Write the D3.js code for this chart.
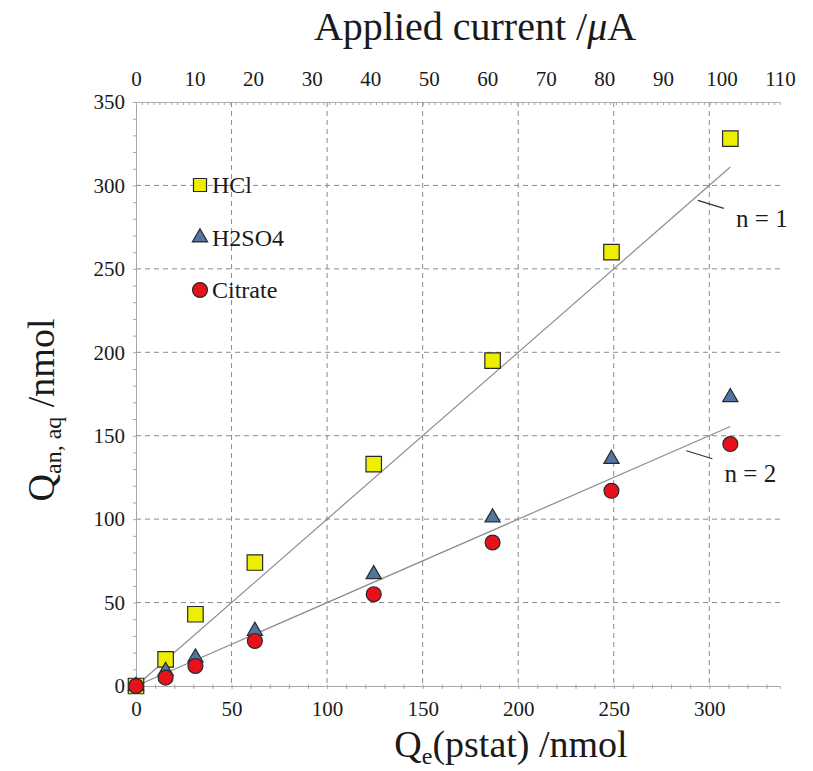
<!DOCTYPE html>
<html>
<head>
<meta charset="utf-8">
<script src="https://cdn.jsdelivr.net/npm/d3@7"></script>
<style>
  body { margin: 0; background: #fff; }
  svg text { font-family: 'Liberation Serif', 'Times New Roman', serif; fill: #1a1a1a; }
</style>
</head>
<body>
<div id="graf"></div>
<script>
// datos
qe      = [0, 15.5, 31.1, 62.2, 124.4, 186.6, 248.8, 311]
hcl     = [0, 16, 43, 74, 133, 195, 260, 328]
h2so4   = [0, 9, 17, 33, 67, 101, 136, 173]
citrate = [0, 5, 12, 27, 55, 86, 117, 145]

series  = ['HCl', 'H2SO4', 'Citrate']
fitN    = [1, 2]
fitX    = [0, 311]

yTicks      = [0, 50, 100, 150, 200, 250, 300, 350]
xTicks      = [0, 50, 100, 150, 200, 250, 300]
topTicks    = [0, 10, 20, 30, 40, 50, 60, 70, 80, 90, 100, 110]

// margenes
ancho_total = 813
alto_total = 771
margins = { top: 102, left: 136, right: 33, bottom: 85 }
ancho = ancho_total - margins.left - margins.right
alto  = alto_total - margins.top - margins.bottom
fuente = "'Liberation Serif', 'Times New Roman', serif"

svg = d3.select('#graf').append('svg')
        .attr('width', ancho_total)
        .attr('height', alto_total)

g = svg.append('g')
       .attr('transform', `translate(${ margins.left }, ${ margins.top })`)

// escalas
x = d3.scaleLinear().domain([0, 337]).range([0, ancho])
xTop = d3.scaleLinear().domain([0, 110]).range([0, ancho])
y = d3.scaleLinear().domain([0, 350]).range([alto, 0])

// grilla
g.append('g').selectAll('line')
  .data(xTicks.filter(d => d > 0))
  .join('line')
    .attr('x1', d => x(d)).attr('x2', d => x(d))
    .attr('y1', 0).attr('y2', alto)
    .attr('stroke', '#8a8a8a')
    .attr('stroke-dasharray', '5,4')

g.append('g').selectAll('line')
  .data(yTicks.filter(d => d > 0 && d < 350))
  .join('line')
    .attr('x1', 0).attr('x2', ancho)
    .attr('y1', d => y(d)).attr('y2', d => y(d))
    .attr('stroke', '#8a8a8a')
    .attr('stroke-dasharray', '5,4')

// ejes
function estilo(sel) {
  sel.attr('font-family', fuente).attr('font-size', 21)
  sel.select('.domain').attr('stroke', '#a8a8a8')
  sel.selectAll('.tick line').attr('stroke', '#a8a8a8')
  sel.selectAll('text').attr('fill', '#1a1a1a')
}

// ticks menores
g.append('g')
  .attr('transform', `translate(0, ${ alto })`)
  .call(d3.axisBottom(x).tickValues(d3.range(10, 337, 10)).tickSize(3).tickFormat(''))
  .call(estilo)
g.append('g')
  .attr('transform', `translate(0, ${ alto - 1.5 })`)
  .call(d3.axisBottom(x).tickValues(d3.range(10, 337, 10)).tickSize(3).tickFormat(''))
  .call(s => s.select('.domain').remove())
  .call(estilo)
g.append('g')
  .call(d3.axisLeft(y).tickValues(d3.range(10, 350, 10)).tickSize(3).tickFormat(''))
  .call(estilo)
g.append('g')
  .call(d3.axisBottom(xTop).tickValues(d3.range(1, 110, 1)).tickSize(3).tickFormat(''))
  .call(estilo)
  .call(s => s.select('.domain').attr('stroke', '#b0b0b0'))

xAxisGroup = g.append('g')
  .attr('transform', `translate(0, ${ alto })`)
  .call(d3.axisBottom(x).tickValues(xTicks).tickSize(0).tickPadding(15))
  .call(estilo)
  .call(s => s.select('.domain').remove())

yAxisGroup = g.append('g')
  .call(d3.axisLeft(y).tickValues(yTicks).tickSize(0).tickPadding(11))
  .call(estilo)
  .call(s => s.select('.domain').remove())

topAxisGroup = g.append('g')
  .call(d3.axisTop(xTop).tickValues(topTicks).tickSize(0).tickPadding(16))
  .call(estilo)
  .call(s => s.select('.domain').remove())

// lineas de ajuste n = 1, n = 2
linea = d3.line().x(d => x(d[0])).y(d => y(d[1]))
fitN.forEach(n => {
  g.append('path')
    .datum(fitX.map(v => [v, v / n]))
    .attr('d', linea)
    .attr('fill', 'none')
    .attr('stroke', '#8c8c8c')
    .attr('stroke-width', 1.2)
})

// etiquetas de las lineas
etiquetas = [
  { n: 1, xv: 294, tx: 314, ty: 275 },
  { n: 2, xv: 288, tx: 308, ty: 122 }
]
etiquetas.forEach(e => {
  x0 = x(e.xv)
  y0 = y(e.xv / e.n) + 5
  g.append('line')
    .attr('x1', x0).attr('y1', y0)
    .attr('x2', x0 + 26).attr('y2', y0 + 8)
    .attr('stroke', '#333').attr('stroke-width', 1.2)
  g.append('text')
    .attr('x', x(e.tx)).attr('y', y(e.ty))
    .attr('font-size', 25)
    .text(`n = ${ e.n }`)
})

// marcadores
colores = { 'HCl': '#eeee00', 'H2SO4': '#4f77a0', 'Citrate': '#e8111b' }
datos = { 'HCl': hcl, 'H2SO4': h2so4, 'Citrate': citrate }
simbolos = {
  'HCl': d3.symbol(d3.symbolSquare, 240),
  'H2SO4': d3.symbol(d3.symbolTriangle, 100),
  'Citrate': d3.symbol(d3.symbolCircle, 175)
}

series.forEach(s => {
  g.append('g').selectAll('path')
    .data(qe.map((q, i) => [q, datos[s][i]]))
    .join('path')
      .attr('transform', d => `translate(${ x(d[0]) }, ${ y(d[1]) })`)
      .attr('d', simbolos[s])
      .attr('fill', colores[s])
      .attr('stroke', '#2a2a2a')
      .attr('stroke-width', 1.2)
})

// leyenda
leyenda = g.append('g').attr('transform', 'translate(64, 83)')
series.forEach((s, i) => {
  item = leyenda.append('g').attr('transform', `translate(0, ${ i * 52.5 })`)
  item.append('path')
    .attr('d', s == 'HCl' ? d3.symbol(d3.symbolSquare, 170) : simbolos[s])
    .attr('fill', colores[s])
    .attr('stroke', '#2a2a2a')
    .attr('stroke-width', 1.2)
  item.append('text')
    .attr('x', 12).attr('y', 8)
    .attr('font-size', 24)
    .text(s)
})

// titulos
titTop = svg.append('text')
  .attr('x', 475).attr('y', 40)
  .attr('text-anchor', 'middle')
  .attr('font-size', 40)
titTop.append('tspan').text('Applied current /')
titTop.append('tspan').attr('font-style', 'italic').text('μ')
titTop.append('tspan').text('A')

titBottom = svg.append('text')
  .attr('x', 511).attr('y', 757)
  .attr('text-anchor', 'middle')
  .attr('font-size', 38)
titBottom.append('tspan').text('Q')
titBottom.append('tspan').attr('font-size', 24).attr('dy', 7).text('e')
titBottom.append('tspan').attr('dy', -7).text('(pstat) /nmol')

titLeft = svg.append('text')
  .attr('transform', 'translate(54, 410) rotate(-90)')
  .attr('text-anchor', 'middle')
  .attr('font-size', 38)
titLeft.append('tspan').text('Q')
titLeft.append('tspan').attr('font-size', 24).attr('dy', 7).text('an, aq')
titLeft.append('tspan').attr('dy', -7).text(' /nmol')
</script>
</body>
</html>
